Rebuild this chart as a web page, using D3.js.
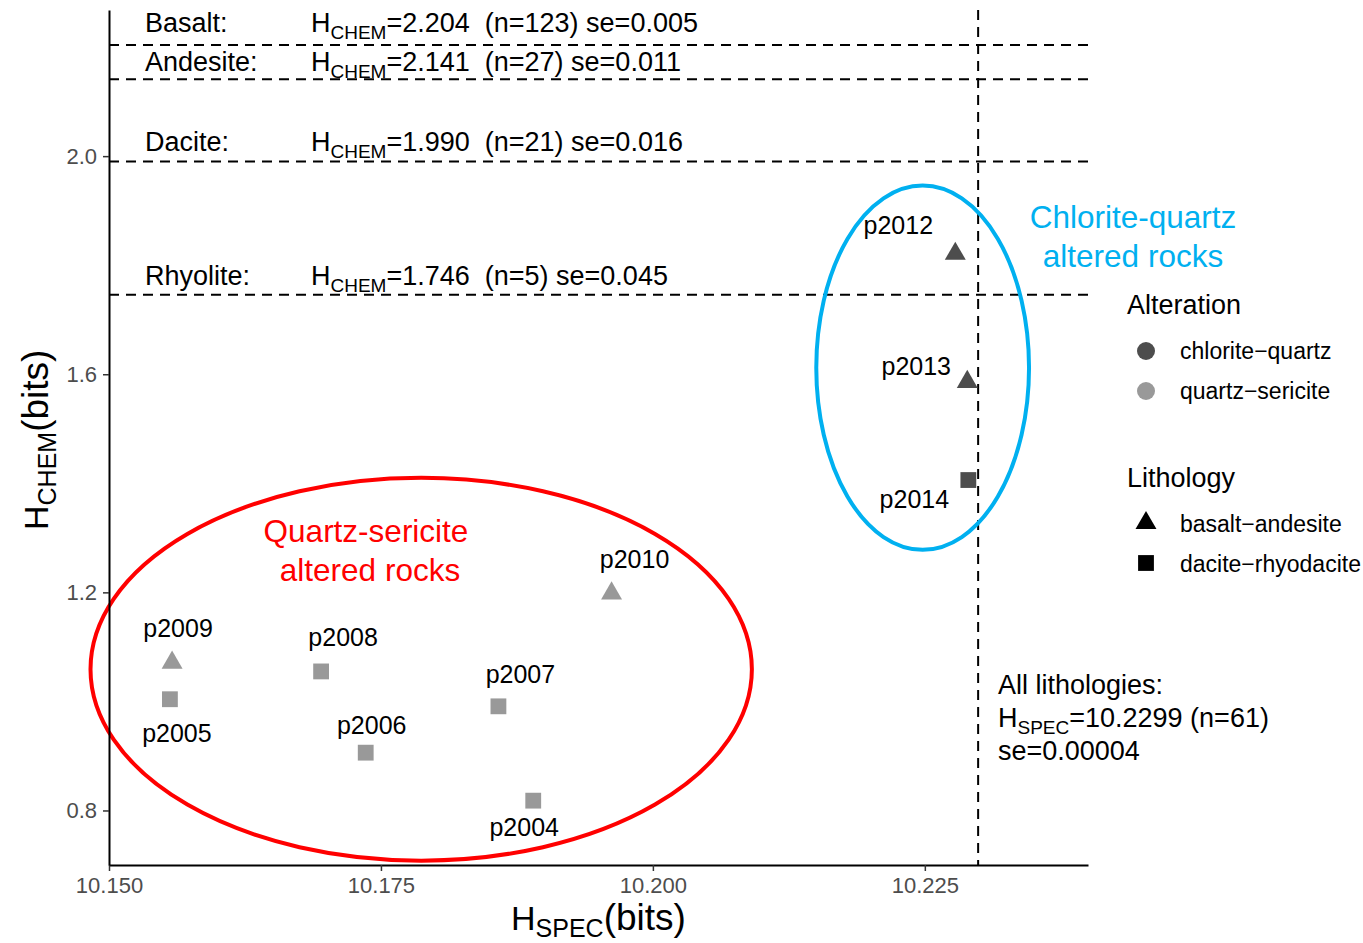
<!DOCTYPE html>
<html>
<head>
<meta charset="utf-8">
<script src="https://cdn.jsdelivr.net/npm/d3@7"></script>
<style>
  body { margin: 0; background: #fff; }
  svg { display: block; font-family: "Liberation Sans", Arial, sans-serif; }
</style>
</head>
<body>
<svg id="chart" width="1363" height="943"></svg>
<script>
// samples
const sampleIds = ['p2004', 'p2005', 'p2006', 'p2007', 'p2008', 'p2009', 'p2010', 'p2012', 'p2013', 'p2014'];
const hSpec = [10.1890, 10.1556, 10.1736, 10.1858, 10.1695, 10.1558, 10.1962, 10.2278, 10.2289, 10.2290];
const hChem = [0.818, 1.004, 0.906, 0.991, 1.055, 1.071, 1.198, 1.821, 1.586, 1.406];
const alteration = ['quartz-sericite', 'quartz-sericite', 'quartz-sericite', 'quartz-sericite', 'quartz-sericite',
  'quartz-sericite', 'quartz-sericite', 'chlorite-quartz', 'chlorite-quartz', 'chlorite-quartz'];
const lithology = ['dacite-rhyodacite', 'dacite-rhyodacite', 'dacite-rhyodacite', 'dacite-rhyodacite', 'dacite-rhyodacite',
  'basalt-andesite', 'basalt-andesite', 'basalt-andesite', 'basalt-andesite', 'dacite-rhyodacite'];

// reference lines per rock type
const rockTypes = ['Basalt:', 'Andesite:', 'Dacite:', 'Rhyolite:'];
const rockHChem = [2.204, 2.141, 1.990, 1.746];
const rockN = [123, 27, 21, 5];
const rockSe = ['0.005', '0.011', '0.016', '0.045'];

const allHSpec = 10.2299;
const allN = 61;
const allSe = '0.00004';

const xTicks = [10.150, 10.175, 10.200, 10.225];
const yTicks = [0.8, 1.2, 1.6, 2.0];

const alterationLevels = ['chlorite-quartz', 'quartz-sericite'];
const lithologyLevels = ['basalt-andesite', 'dacite-rhyodacite'];

// group ellipses in data units: [cx, cy, rx, ry]
const quartzSericiteEllipse = [10.1787, 1.059, 0.0304, 0.351];
const chloriteQuartzEllipse = [10.2248, 1.612, 0.00978, 0.334];

// label nudges in px (layout only)
const labelNudge = {
  p2004: [-9, 35], p2005: [7, 43], p2006: [6, -19], p2007: [22, -23], p2008: [22, -25],
  p2009: [6, -26], p2010: [23, -25], p2012: [-57, -20], p2013: [-51, -7], p2014: [-54, 28]
};

const svg = d3.select('#chart');
const x = d3.scaleLinear().domain([10.15, 10.24]).range([109, 1088]);
const y = d3.scaleLinear().domain([0.7, 2.268]).range([865, 10]);

const colour = d3.scaleOrdinal().domain(alterationLevels).range(['#4d4d4d', '#999999']);
const shape = d3.scaleOrdinal().domain(lithologyLevels).range([d3.symbolTriangle, d3.symbolSquare]);
const symSize = { 'basalt-andesite': 190, 'dacite-rhyodacite': 250 };

const dash = '10,7';

// helper: text with a subscript
function subText(g, px, py, main, sub, rest, size, subSize, shift) {
  const t = g.append('text').attr('x', px).attr('y', py).attr('font-size', size).attr('fill', '#000');
  t.append('tspan').text(main);
  t.append('tspan').attr('font-size', subSize).attr('dy', shift).text(sub);
  t.append('tspan').attr('dy', -shift).text(rest);
  return t;
}

// horizontal reference lines
svg.append('g')
  .selectAll('line')
  .data(rockHChem)
  .enter()
  .append('line')
  .attr('x1', x.range()[0])
  .attr('x2', x.range()[1])
  .attr('y1', d => y(d))
  .attr('y2', d => y(d))
  .attr('stroke', '#000')
  .attr('stroke-width', 2)
  .attr('stroke-dasharray', dash);

// vertical reference line
svg.append('line')
  .attr('x1', x(allHSpec)).attr('x2', x(allHSpec))
  .attr('y1', y.range()[1]).attr('y2', y.range()[0])
  .attr('stroke', '#000')
  .attr('stroke-width', 2)
  .attr('stroke-dasharray', dash);

// rock type annotations
const textRaise = [13, 8, 11, 10];
const ann = svg.append('g');
rockTypes.forEach((r, i) => {
  const ty = y(rockHChem[i]) - textRaise[i];
  ann.append('text').attr('x', 145).attr('y', ty).attr('font-size', 27).text(r);
  subText(ann, 311, ty, 'H', 'CHEM', `=${rockHChem[i].toFixed(3)}  (n=${rockN[i]}) se=${rockSe[i]}`, 27, 19, 7)
    .attr('xml:space', 'preserve');
});

// all lithologies annotation
const allG = svg.append('g');
allG.append('text').attr('x', 998).attr('y', 694).attr('font-size', 27).text('All lithologies:');
subText(allG, 998, 727, 'H', 'SPEC', `=${allHSpec} (n=${allN})`, 27, 19, 7);
allG.append('text').attr('x', 998).attr('y', 760).attr('font-size', 27).text(`se=${allSe}`);

// ellipses
[[quartzSericiteEllipse, '#ff0000'], [chloriteQuartzEllipse, '#00b0f0']].forEach(([e, c]) => {
  svg.append('ellipse')
    .attr('cx', x(e[0]))
    .attr('cy', y(e[1]))
    .attr('rx', x(e[0] + e[2]) - x(e[0]))
    .attr('ry', y(e[1]) - y(e[1] + e[3]))
    .attr('fill', 'none')
    .attr('stroke', c)
    .attr('stroke-width', 4);
});

// group labels
const grp = svg.append('g').attr('font-size', 31.5).attr('text-anchor', 'middle');
grp.append('text').attr('x', 366).attr('y', 542).attr('fill', '#ff0000').text('Quartz-sericite');
grp.append('text').attr('x', 370).attr('y', 581).attr('fill', '#ff0000').text('altered rocks');
grp.append('text').attr('x', 1133).attr('y', 228).attr('fill', '#00b0f0').text('Chlorite-quartz');
grp.append('text').attr('x', 1133).attr('y', 267).attr('fill', '#00b0f0').text('altered rocks');

// points
const samples = sampleIds.map((id, i) => ({
  id, hSpec: hSpec[i], hChem: hChem[i], alteration: alteration[i], lithology: lithology[i]
}));

svg.append('g')
  .selectAll('path')
  .data(samples)
  .enter()
  .append('path')
  .attr('transform', d => `translate(${x(d.hSpec)},${y(d.hChem)})`)
  .attr('d', d => d3.symbol().type(shape(d.lithology)).size(symSize[d.lithology])())
  .attr('fill', d => colour(d.alteration));

svg.append('g')
  .selectAll('text')
  .data(samples)
  .enter()
  .append('text')
  .attr('x', d => x(d.hSpec) + labelNudge[d.id][0])
  .attr('y', d => y(d.hChem) + labelNudge[d.id][1])
  .attr('text-anchor', 'middle')
  .attr('font-size', 25)
  .text(d => d.id);

// axes
const xAxis = svg.append('g')
  .attr('transform', `translate(0,${y.range()[0]})`)
  .call(d3.axisBottom(x).tickValues(xTicks).tickFormat(d3.format('.3f')).tickSize(6).tickSizeOuter(0).tickPadding(6));
const yAxis = svg.append('g')
  .attr('transform', `translate(${x.range()[0]},0)`)
  .call(d3.axisLeft(y).tickValues(yTicks).tickFormat(d3.format('.1f')).tickSize(6).tickSizeOuter(0).tickPadding(6));

[xAxis, yAxis].forEach(a => {
  a.select('.domain').attr('stroke', '#000').attr('stroke-width', 2);
  a.selectAll('.tick line').attr('stroke', '#333').attr('stroke-width', 1.5);
  a.selectAll('.tick text').attr('fill', '#4d4d4d').attr('font-size', 22)
    .attr('font-family', '"Liberation Sans", Arial, sans-serif');
});

// axis titles
const xt = svg.append('text').attr('x', 511).attr('y', 930).attr('font-size', 34);
xt.append('tspan').text('H');
xt.append('tspan').attr('font-size', 25).attr('dy', 7).text('SPEC');
xt.append('tspan').attr('dy', -7).attr('font-size', 37).text('(bits)');

const yt = svg.append('text').attr('transform', 'translate(48,530) rotate(-90)').attr('font-size', 34);
yt.append('tspan').text('H');
yt.append('tspan').attr('font-size', 25).attr('dy', 8).text('CHEM');
yt.append('tspan').attr('dy', -8).attr('font-size', 37).text('(bits)');

// legend
const leg = svg.append('g');
leg.append('text').attr('x', 1127).attr('y', 314).attr('font-size', 27).text('Alteration');
alterationLevels.forEach((a, i) => {
  leg.append('circle').attr('cx', 1146).attr('cy', 351 + i * 40).attr('r', 9).attr('fill', colour(a));
  leg.append('text').attr('x', 1180).attr('y', 359 + i * 40).attr('font-size', 23).text(a.replace('-', '\u2212'));
});
leg.append('text').attr('x', 1127).attr('y', 487).attr('font-size', 27).text('Lithology');
lithologyLevels.forEach((l, i) => {
  leg.append('path')
    .attr('transform', `translate(1146,${523 + i * 40})`)
    .attr('d', d3.symbol().type(shape(l)).size(symSize[l])())
    .attr('fill', '#000');
  leg.append('text').attr('x', 1180).attr('y', 532 + i * 40).attr('font-size', 23).text(l.replace('-', '\u2212'));
});
</script>
</body>
</html>
